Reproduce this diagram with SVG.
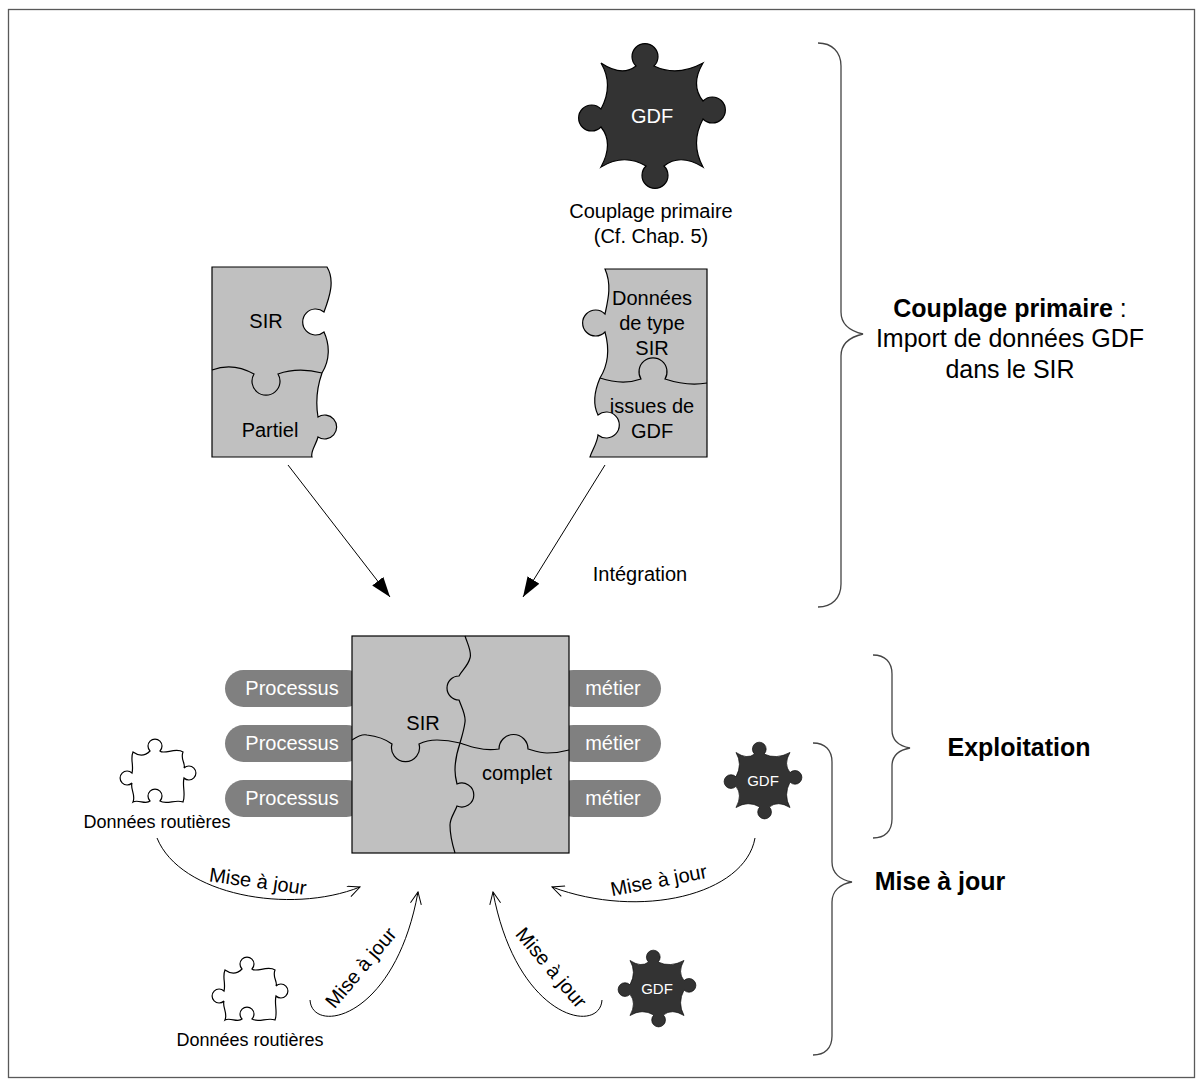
<svg xmlns="http://www.w3.org/2000/svg" xmlns:xlink="http://www.w3.org/1999/xlink" width="1203" height="1086" viewBox="0 0 1203 1086">
  <style>
    text { font-family: "Liberation Sans", Arial, sans-serif; fill: #000; }
    .t20 { font-size: 20px; text-anchor: middle; }
    .t18 { font-size: 18px; text-anchor: middle; }
    .w { fill: #fff; }
    .big { font-size: 25px; text-anchor: middle; }
    .bold { font-weight: bold; }
    .puzzle { fill: #c0c0c0; stroke: #000; stroke-width: 1.2; }
    .seam { fill: none; stroke: #000; stroke-width: 1.2; }
    .dark { fill: #333; stroke: #000; stroke-width: 1.2; }
    .outline { fill: #fff; stroke: #000; stroke-width: 1.2; }
    .pill { fill: #808080; }
    .brace { fill: none; stroke: #444; stroke-width: 1.3; }
    .link { fill: none; stroke: #000; stroke-width: 1; }
  </style>
  <defs>
    <marker id="tri" viewBox="0 0 20 14" refX="20" refY="7" markerWidth="20" markerHeight="14" markerUnits="userSpaceOnUse" orient="auto">
      <path d="M0,0 L20,7 L0,14 Z" fill="#000"/>
    </marker>
    <marker id="vee" viewBox="0 0 14 12" refX="13" refY="6" markerWidth="14" markerHeight="12" markerUnits="userSpaceOnUse" orient="auto">
      <path d="M1,0.5 L13,6 L1,11.5" fill="none" stroke="#000" stroke-width="1"/>
    </marker>
    <!-- four-knob piece with concave sides, centred on the origin -->
    <path id="gdfShape" d="M-51,-52 Q-30,-38 -16,-49 A13,13 0 1 1 2,-49 Q25,-38 51,-52 Q38,-30 51,-14 A13,13 0 1 1 51,4 Q38,28 51,52 Q28,38 12,51 A13,13 0 1 1 -6,51 Q-28,38 -51,52 Q-38,28 -51,12 A13,13 0 1 1 -51,-6 Q-38,-30 -51,-52 Z"/>
    <!-- small white piece: three tabs and one socket -->
    <path id="pieceShape" d="M-25,-25 C-18,-20 -12,-22 -8,-26 A7,7 0 1 1 2,-26 C6,-22 18,-30 25,-25 C22,-18 28,-13 26,-9 A7,7 0 1 1 26,1 C24,8 28,18 25,25 C18,22 8,28 2,24 A7,7 0 1 0 -8,24 C-12,28 -20,22 -25,25 C-22,18 -28,12 -26,6 A7,7 0 1 1 -26,-4 C-24,-12 -28,-18 -25,-25 Z"/>
  </defs>

  <!-- page frame -->
  <rect x="8.5" y="9.5" width="1186" height="1068" fill="#fff" stroke="#595959" stroke-width="1.3"/>

  <!-- GDF source piece -->
  <g id="gdf-main">
    <use xlink:href="#gdfShape" href="#gdfShape" class="dark" transform="translate(652,115)"/>
    <text class="t20 w" x="652" y="123">GDF</text>
    <text class="t20" x="651" y="218">Couplage primaire</text>
    <text class="t20" x="651" y="243">(Cf. Chap. 5)</text>
  </g>

  <!-- partial SIR -->
  <g id="sir-partiel">
    <path class="puzzle" d="M212,267 L327,267 C335,280 330,296 324,312 A13,13 0 1 0 324,332 C330,345 330,360 322,373 C316,390 316,405 318,417 A12,12 0 1 1 318,437 C316,445 310,452 312,457 L212,457 Z"/>
    <path class="seam" d="M212,370 C225,365 240,366 254,374 A14,14 0 1 0 278,374 C295,368 310,370 322,373"/>
    <text class="t20" x="266" y="328">SIR</text>
    <text class="t20" x="270" y="437">Partiel</text>
  </g>

  <!-- SIR-type data from GDF -->
  <g id="donnees-gdf">
    <path class="puzzle" d="M605,269 L707,269 L707,457 L590,457 C592,450 597,444 598,435 A13,13 0 1 0 598,415 C593,405 594,392 600,378 C608,365 610,350 605,332 A13,13 0 1 1 605,314 C608,300 612,285 605,269 Z"/>
    <path class="seam" d="M600,378 C615,383 630,383 641,379 A14,14 0 1 1 665,379 C680,384 695,385 707,383"/>
    <text class="t20" x="652" y="305">Données</text>
    <text class="t20" x="652" y="330">de type</text>
    <text class="t20" x="652" y="355">SIR</text>
    <text class="t20" x="652" y="413">issues de</text>
    <text class="t20" x="652" y="438">GDF</text>
  </g>

  <!-- business processes around the complete SIR -->
  <g id="processus">
    <rect class="pill" x="225" y="670" width="140" height="37" rx="18.5"/>
    <rect class="pill" x="225" y="725" width="140" height="37" rx="18.5"/>
    <rect class="pill" x="225" y="780" width="140" height="37" rx="18.5"/>
    <text class="t20 w" x="292" y="695">Processus</text>
    <text class="t20 w" x="292" y="750">Processus</text>
    <text class="t20 w" x="292" y="805">Processus</text>
  </g>
  <g id="metier">
    <rect class="pill" x="555" y="670" width="106" height="37" rx="18.5"/>
    <rect class="pill" x="555" y="725" width="106" height="37" rx="18.5"/>
    <rect class="pill" x="555" y="780" width="106" height="37" rx="18.5"/>
    <text class="t20 w" x="613" y="695">métier</text>
    <text class="t20 w" x="613" y="750">métier</text>
    <text class="t20 w" x="613" y="805">métier</text>
  </g>

  <!-- complete SIR -->
  <g id="sir-complet">
    <rect class="puzzle" x="352" y="636" width="217" height="217"/>
    <path class="seam" d="M465,636 C468,645 472,652 470,658 C468,666 462,670 459,676 A12,12 0 1 0 459,700 C462,708 466,715 465,722 C464,730 462,736 460,743 C457,752 455,760 455,770 C455,776 456,780 457,784 A12,12 0 1 1 457,806 C455,812 450,818 450,825 C450,833 451,840 455,853"/>
    <path class="seam" d="M352,740 C358,736 363,734 367,735 C376,736 384,738 392,744 A14,14 0 1 0 419,744 C425,741 432,740 437,740 C445,740 452,741 460,743 C466,745 471,747 477,748 C485,750 492,750 499,749 A14,14 0 1 1 528,749 C535,751 541,753 547,753 C555,753 562,752 569,750"/>
    <text class="t20" x="423" y="730">SIR</text>
    <text class="t20" x="517" y="780">complet</text>
  </g>

  <!-- road data sources -->
  <g id="routieres-1">
    <use xlink:href="#pieceShape" href="#pieceShape" class="outline" transform="translate(158,777)"/>
    <text class="t18" x="157" y="828">Données routières</text>
  </g>
  <g id="routieres-2">
    <use xlink:href="#pieceShape" href="#pieceShape" class="outline" transform="translate(250,995)"/>
    <text class="t18" x="250" y="1046">Données routières</text>
  </g>

  <!-- GDF update sources -->
  <g id="gdf-maj-1">
    <use xlink:href="#gdfShape" href="#gdfShape" class="dark" transform="translate(763,780) scale(0.53)"/>
    <text class="w" x="763" y="786" font-size="15" text-anchor="middle">GDF</text>
  </g>
  <g id="gdf-maj-2">
    <use xlink:href="#gdfShape" href="#gdfShape" class="dark" transform="translate(657,988) scale(0.53)"/>
    <text class="w" x="657" y="994" font-size="15" text-anchor="middle">GDF</text>
  </g>

  <!-- connectors -->
  <g id="connectors">
    <line class="link" x1="288" y1="465" x2="390" y2="597" marker-end="url(#tri)"/>
    <line class="link" x1="605" y1="465" x2="523" y2="597" marker-end="url(#tri)"/>
    <text class="t20" x="640" y="581">Intégration</text>

    <path class="link" d="M157,838 C180,895 290,915 360,887" marker-end="url(#vee)"/>
    <text class="t20" transform="translate(257,888) rotate(8)">Mise à jour</text>

    <path class="link" d="M310,1000 C312,1035 395,1020 418,892" marker-end="url(#vee)"/>
    <text class="t20" transform="translate(366,972) rotate(-50)">Mise à jour</text>

    <path class="link" d="M602,1000 C600,1035 517,1020 493,892" marker-end="url(#vee)"/>
    <text class="t20" transform="translate(546,972) rotate(50)">Mise à jour</text>

    <path class="link" d="M755,838 C745,895 640,920 552,887" marker-end="url(#vee)"/>
    <text class="t20" transform="translate(660,887) rotate(-11)">Mise à jour</text>
  </g>

  <!-- phase braces -->
  <g id="phase-couplage">
    <path class="brace" d="M818,43 C832,43 841,52 841,66 L841,312 C841,324 850,331 863,334 C850,337 841,344 841,356 L841,584 C841,598 832,607 818,607"/>
    <text class="big" x="1010" y="317"><tspan class="bold">Couplage primaire</tspan> :</text>
    <text class="big" x="1010" y="347">Import de données GDF</text>
    <text class="big" x="1010" y="378">dans le SIR</text>
  </g>
  <g id="phase-exploitation">
    <path class="brace" d="M873,655 C885,655 892,662 892,674 L892,730 C892,740 899,746 910,748 C899,750 892,756 892,766 L892,819 C892,831 885,838 873,838"/>
    <text class="big bold" x="1019" y="756">Exploitation</text>
  </g>
  <g id="phase-maj">
    <path class="brace" d="M813,743 C825,743 832,750 832,762 L832,862 C832,873 840,880 852,882 C840,884 832,891 832,902 L832,1036 C832,1048 825,1055 813,1055"/>
    <text class="big bold" x="940" y="890">Mise à jour</text>
  </g>
</svg>
